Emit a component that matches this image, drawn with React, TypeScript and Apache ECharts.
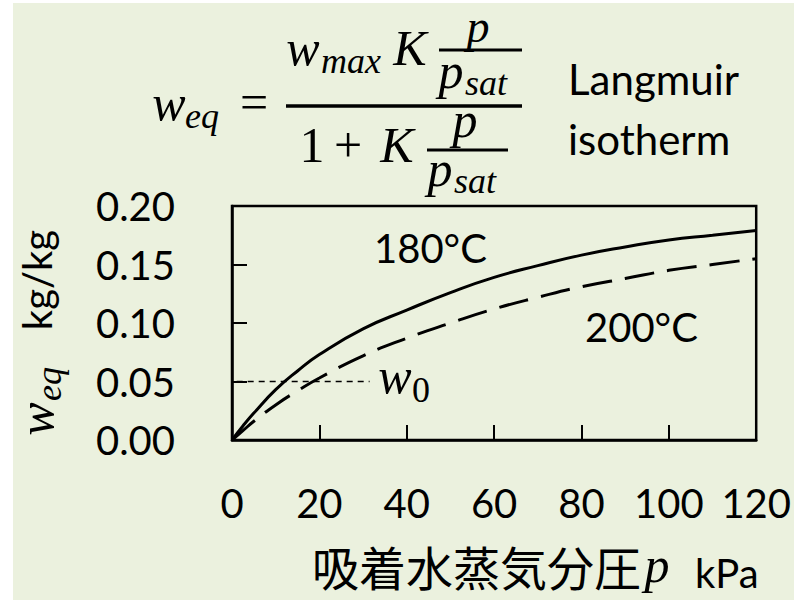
import React, { useEffect, useRef } from "react";
import * as echarts from "echarts";

// Data
const P_KPA = [0, 2.5, 5, 10, 15, 20, 30, 40, 50, 60, 70, 80, 90, 100, 110, 120];
const W_180 = [0, 0.012, 0.023, 0.043, 0.059, 0.073, 0.095, 0.111, 0.126, 0.139, 0.149, 0.158, 0.165, 0.171, 0.175, 0.179];
const W_200 = [0, 0.008, 0.016, 0.03, 0.042, 0.053, 0.072, 0.087, 0.1, 0.112, 0.122, 0.131, 0.138, 0.145, 0.15, 0.155];
const W0_X = [-9, 31.5];
const W0_VALUE = 0.05;
const X_TICKS = { min: 0, max: 120, interval: 20 };
const Y_TICKS = { min: 0, max: 0.2, interval: 0.05 };

const SANS = "Lato";
const SERIF = '"Liberation Serif"';
const CJK = '"Noto Sans CJK JP"';

// place text by baseline (middle-aligned with central baseline)
function txt(text: string, x: number, baseline: number, size: number, family: string, opts: any = {}) {
  const k = family === SANS ? 0.387 : family === CJK ? 0.38 : 0.3375;
  const italic = opts.italic ? "italic " : "";
  const align = opts.align || "center";
  const style: any = {
    text,
    font: `${italic}${size}px ${family}`,
    fill: "#000",
    textAlign: align,
    align,
    textVerticalAlign: "middle",
    verticalAlign: "middle",
  };
  return {
    type: "text",
    x,
    y: baseline - k * size,
    silent: true,
    style,
  };
}

function bar(x1: number, x2: number, y: number, w = 3) {
  return {
    type: "line",
    silent: true,
    shape: { x1, y1: y, x2, y2: y },
    style: { stroke: "#000", lineWidth: w },
  };
}

export default function App() {
  const ref = useRef<HTMLDivElement>(null);
  useEffect(() => {
    if (!ref.current) return;
    const chart = echarts.init(ref.current, undefined, { renderer: "svg" });
    const M = 50;
    const S = 36;
    chart.setOption({
      animation: false,
      backgroundColor: "#ffffff",
      grid: {
        left: 232,
        top: 206,
        right: 35,
        bottom: 160,
        show: true,
        borderColor: "#000",
        borderWidth: 2.5,
        backgroundColor: "transparent",
      },
      xAxis: {
        type: "value",
        min: X_TICKS.min,
        max: X_TICKS.max,
        interval: X_TICKS.interval,
        axisLine: { show: true, lineStyle: { color: "#000", width: 2.5 } },
        axisTick: { show: true, inside: true, length: 15, lineStyle: { color: "#000", width: 2 } },
        splitLine: { show: false },
        axisLabel: { margin: 43, fontSize: 40, fontFamily: SANS, color: "#000" },
      },
      yAxis: {
        type: "value",
        min: Y_TICKS.min,
        max: Y_TICKS.max,
        interval: Y_TICKS.interval,
        axisLine: { show: true, lineStyle: { color: "#000", width: 2.5 } },
        axisTick: { show: true, inside: true, length: 15, lineStyle: { color: "#000", width: 2 } },
        splitLine: { show: false },
        axisLabel: {
          margin: 57,
          fontSize: 40,
          fontFamily: SANS,
          color: "#000",
          formatter: (v: number) => v.toFixed(2),
        },
      },
      series: [
        {
          name: "180°C",
          type: "line",
          data: P_KPA.map((p, i) => [p, W_180[i]]),
          smooth: 0.5,
          symbol: "none",
          lineStyle: { color: "#000", width: 3 },
          z: 3,
        },
        {
          name: "200°C",
          type: "line",
          data: P_KPA.map((p, i) => [p, W_200[i]]),
          smooth: 0.5,
          symbol: "none",
          lineStyle: { color: "#000", width: 3, type: [30, 13] },
          z: 3,
        },
        {
          name: "w0",
          type: "line",
          data: W0_X.map((x) => [x, W0_VALUE]),
          clip: false,
          symbol: "none",
          lineStyle: { color: "#000", width: 1.5, type: [6, 5] },
          z: 2,
        },
      ],
      graphic: [
        {
          type: "rect",
          z: -100,
          silent: true,
          shape: { x: 13, y: 3, width: 781, height: 597 },
          style: { fill: "#EBF1DE" },
        },
        // formula: w_eq =
        txt("w", 169, 120, M, SERIF, { italic: true }),
        txt("eq", 202, 128, S, SERIF, { italic: true }),
        txt("=", 254, 119, M, SERIF),
        bar(286, 522, 106, 3.5),
        // numerator
        txt("w", 303, 65, M, SERIF, { italic: true }),
        txt("max", 351, 73, S, SERIF, { italic: true }),
        txt("K", 410, 65, M, SERIF, { italic: true }),
        txt("p", 478, 42, 46, SERIF, { italic: true }),
        bar(439, 522, 50, 3),
        txt("p", 451, 88, M, SERIF, { italic: true }),
        txt("sat", 486, 95, S, SERIF, { italic: true }),
        // denominator
        txt("1", 312, 162, M, SERIF),
        txt("+", 348, 162, M, SERIF),
        txt("K", 397, 162, M, SERIF, { italic: true }),
        txt("p", 465, 137, M, SERIF, { italic: true }),
        bar(427, 508, 150, 3),
        txt("p", 440, 186, M, SERIF, { italic: true }),
        txt("sat", 475, 193, S, SERIF, { italic: true }),
        // Langmuir isotherm
        txt("Langmuir", 568, 95, 42, SANS, { align: "left" }),
        txt("isotherm", 568, 155, 42, SANS, { align: "left" }),
        // curve labels
        txt("180°C", 374, 263, 40, SANS, { align: "left" }),
        txt("200°C", 585, 342, 40, SANS, { align: "left" }),
        // w0 label
        txt("w", 395, 393, M, SERIF, { italic: true }),
        txt("0", 421, 402, S, SERIF),
        // y axis title (rotated)
        {
          type: "group",
          x: 41,
          y: 330,
          rotation: Math.PI / 2,
          children: [
            txt("w", -89, 12, M, SERIF, { italic: true }),
            txt("eq", -54, 20, S, SERIF, { italic: true }),
            txt("kg/kg", 50, 11, 40, SANS),
          ],
        },
        // x axis title
        txt("吸着水蒸気分圧", 312, 583, 47, CJK, { align: "left" }),
        txt("p", 657, 582, M, SERIF, { italic: true }),
        txt("kPa", 695, 588, 40, SANS, { align: "left" }),
      ],
    });
    return () => chart.dispose();
  }, []);
  return <div ref={ref} style={{ position: "fixed", left: 0, top: 0, width: 794, height: 600 }} />;
}
